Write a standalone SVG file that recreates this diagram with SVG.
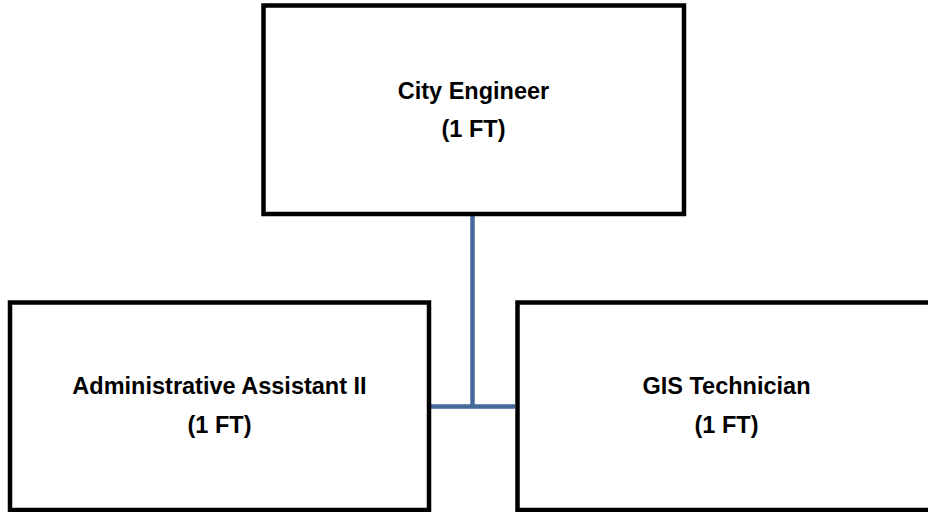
<svg xmlns="http://www.w3.org/2000/svg" width="928" height="512" viewBox="0 0 928 512">
  <style>
    .box { fill: #ffffff; stroke: #000000; stroke-width: 4.5; }
    .label { font-family: "Liberation Sans", Arial, sans-serif; font-weight: bold; font-size: 23.5px; fill: #000000; text-anchor: middle; }
    .link { fill: none; stroke: #44699b; stroke-width: 4.5; }
  </style>
  <rect width="928" height="512" fill="#ffffff"/>

  <g id="connectors">
    <line class="link" x1="472.5" y1="216" x2="472.5" y2="406.5"/>
    <line class="link" x1="431" y1="406.5" x2="515" y2="406.5"/>
  </g>

  <g id="city-engineer">
    <rect class="box" x="263.5" y="5.5" width="420.5" height="208.5"/>
    <text class="label" x="473.5" y="98.5">City Engineer</text>
    <text class="label" x="473.5" y="137">(1 FT)</text>
  </g>

  <g id="administrative-assistant">
    <rect class="box" x="10" y="302.5" width="419" height="207.5"/>
    <text class="label" x="219.5" y="394">Administrative Assistant II</text>
    <text class="label" x="219.5" y="432.5">(1 FT)</text>
  </g>

  <g id="gis-technician">
    <rect class="box" x="517.5" y="302.5" width="418" height="207.5"/>
    <text class="label" x="726.5" y="394">GIS Technician</text>
    <text class="label" x="726.5" y="432.5">(1 FT)</text>
  </g>
</svg>
